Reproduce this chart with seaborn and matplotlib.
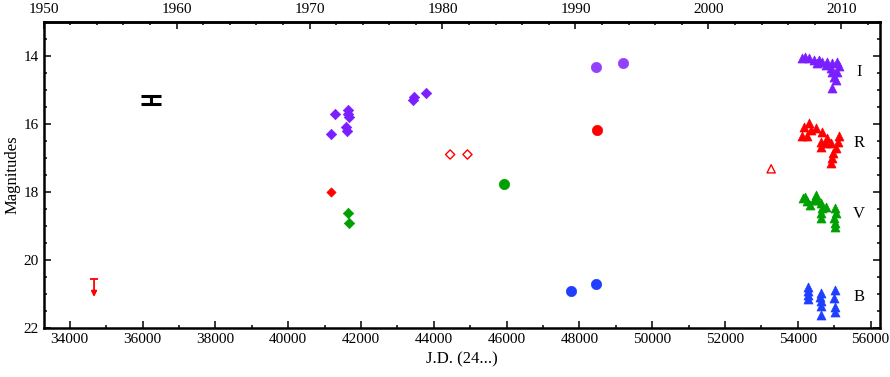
import numpy as np
import pandas as pd
import matplotlib
matplotlib.use('Agg')
import matplotlib.pyplot as plt
import seaborn as sns
from matplotlib.ticker import MultipleLocator, FixedLocator

# photographic plates (diamonds)
jd_I_plate = [41287, 41653, 41637, 41664, 41582, 41609, 41169, 43452, 43441, 43798]
mag_I_plate = [15.70, 15.59, 15.70, 15.81, 16.09, 16.21, 16.30, 15.20, 15.31, 15.10]
jd_R_plate = [41169]
mag_R_plate = [18.01]
jd_V_plate = [41653, 41664]
mag_V_plate = [18.61, 18.91]
jd_R_open = [44450, 44926]
mag_R_open = [16.90, 16.90]

# circles
jd_I_circ = [48456, 49208]
mag_I_circ = [14.34, 14.22]
jd_R_circ = [48483]
mag_R_circ = [16.18]
jd_V_circ = [45927]
mag_V_circ = [17.76]
jd_B_circ = [47758, 48465]
mag_B_circ = [20.90, 20.71]

# recent CCD data (triangles)
jd_I_ccd = [54121, 54212, 54303, 54441, 54578, 54672, 54809, 54946, 55065, 55128,
            55083, 54946, 54900, 54991, 55038, 54928, 54534, 54763]
mag_I_ccd = [14.07, 14.02, 14.07, 14.12, 14.12, 14.17, 14.17, 14.22, 14.17, 14.31,
             14.46, 14.46, 14.36, 14.61, 14.71, 14.95, 14.22, 14.26]
jd_R_ccd = [54121, 54166, 54303, 54350, 54259, 54488, 54672, 54625, 54625, 54809,
            54900, 55128, 55101, 55038, 54974, 54928, 54900, 54763]
mag_R_ccd = [16.37, 16.08, 15.98, 16.18, 16.37, 16.13, 16.23, 16.52, 16.67, 16.42,
             16.57, 16.37, 16.52, 16.71, 16.86, 17.01, 17.16, 16.57]
jd_V_ccd = [54139, 54259, 54330, 54507, 54534, 54625, 54672, 54644, 54644, 54763,
            55010, 55038, 54990, 55010, 55018, 54441, 54212]
mag_V_ccd = [18.19, 18.28, 18.38, 18.09, 18.24, 18.33, 18.48, 18.63, 18.77, 18.43,
             18.48, 18.63, 18.77, 18.92, 19.04, 18.24, 18.14]
jd_B_ccd = [54284, 54284, 54284, 54284, 54633, 54620, 54640, 54633, 54650,
            55010, 55000, 55015, 55010]
mag_B_ccd = [20.80, 20.91, 21.03, 21.16, 20.96, 21.08, 21.20, 21.35, 21.62,
             20.88, 21.13, 21.37, 21.52]
jd_R_open_tri = [53269]
mag_R_open_tri = [17.32]

# upper limit and typical error
jd_limit = 34668
mag_limit = 20.57
jd_err = 36227
mag_err = 15.30
err_size = 0.12

band_labels = ['I', 'R', 'V', 'B']
band_label_mag = [14.47, 16.56, 18.65, 21.1]
year_ticks = [1950, 1960, 1970, 1980, 1990, 2000, 2010]

c_I = '#7a1fff'
c_I2 = '#9440ff'
c_R = '#ff0000'
c_V = '#00a000'
c_B = '#1f3fff'

sns.set_style('ticks', {'axes.edgecolor': 'black', 'xtick.color': 'black',
                        'ytick.color': 'black', 'text.color': 'black',
                        'axes.labelcolor': 'black'})
plt.rcParams['font.family'] = ['Liberation Serif', 'DejaVu Serif']
plt.rcParams['font.size'] = 11

fig, ax = plt.subplots(figsize=(8.9, 3.77), dpi=100)
fig.subplots_adjust(left=0.049, right=0.989, top=0.942, bottom=0.130)

def pts(x, y, marker, color, s, filled=True):
    if filled:
        sns.scatterplot(x=x, y=y, marker=marker, color=color, s=s,
                        edgecolor=color, linewidth=0.5, ax=ax, zorder=3)
    else:
        sns.scatterplot(x=x, y=y, marker=marker, s=s, facecolor='none',
                        edgecolor=color, linewidth=1.0, ax=ax, zorder=3)

pts(jd_I_plate, mag_I_plate, 'D', c_I, 28)
pts(jd_R_plate, mag_R_plate, 'D', c_R, 22)
pts(jd_V_plate, mag_V_plate, 'D', c_V, 28)
pts(jd_R_open, mag_R_open, 'D', c_R, 22, filled=False)

pts(jd_I_circ, mag_I_circ, 'o', c_I2, 55)
pts(jd_R_circ, mag_R_circ, 'o', c_R, 55)
pts(jd_V_circ, mag_V_circ, 'o', c_V, 55)
pts(jd_B_circ, mag_B_circ, 'o', c_B, 55)

pts(jd_I_ccd, mag_I_ccd, '^', c_I, 42)
pts(jd_R_ccd, mag_R_ccd, '^', c_R, 42)
pts(jd_V_ccd, mag_V_ccd, '^', c_V, 42)
pts(jd_B_ccd, mag_B_ccd, '^', c_B, 42)
pts(jd_R_open_tri, mag_R_open_tri, '^', c_R, 35, filled=False)

# typical error bar
ax.errorbar(jd_err, mag_err, yerr=err_size, fmt='none', ecolor='black',
            elinewidth=2.2, capsize=7.5, capthick=2.2, zorder=3)

# upper limit
ax.plot([jd_limit], [mag_limit], marker='_', color=c_R, ms=6, mew=1.3, zorder=3)
ax.annotate('', xy=(jd_limit, mag_limit + 0.52), xytext=(jd_limit, mag_limit),
            arrowprops=dict(arrowstyle='-|>', color=c_R, lw=1.3,
                            mutation_scale=8, shrinkA=0, shrinkB=0))

for lab, m in zip(band_labels, band_label_mag):
    ax.text(55680, m, lab, fontsize=12, ha='center', va='center')

ax.set_xlim(33282, 56265)
ax.set_ylim(22, 13)
ax.xaxis.set_major_locator(MultipleLocator(2000))
ax.xaxis.set_minor_locator(MultipleLocator(1000))
ax.yaxis.set_minor_locator(MultipleLocator(0.5))
ax.set_yticks([14, 16, 18, 20, 22])
ax.tick_params(which='both', direction='in', top=False, right=True,
               labelsize=11, width=1.1)
ax.tick_params(which='major', length=5)
ax.tick_params(which='minor', length=2.5)

ax.set_xlabel('J.D. (24...)', fontsize=12, labelpad=4)
ax.set_ylabel('Magnitudes', fontsize=12, labelpad=2)

for sp in ax.spines.values():
    sp.set_linewidth(1.8)

# calendar years on top
top = ax.secondary_xaxis('top', functions=(lambda jd: 1950 + (jd - 33282) / 365.25,
                                           lambda yr: 33282 + (yr - 1950) * 365.25))
top.xaxis.set_major_locator(FixedLocator(year_ticks))
top.xaxis.set_minor_locator(FixedLocator(list(range(1950, 2013, 2))))
top.tick_params(which='both', direction='in', labelsize=11, width=1.1, pad=4)
top.tick_params(which='major', length=5)
top.tick_params(which='minor', length=2.5)
top.spines['top'].set_linewidth(1.8)

fig.savefig('out.png', dpi=100)
